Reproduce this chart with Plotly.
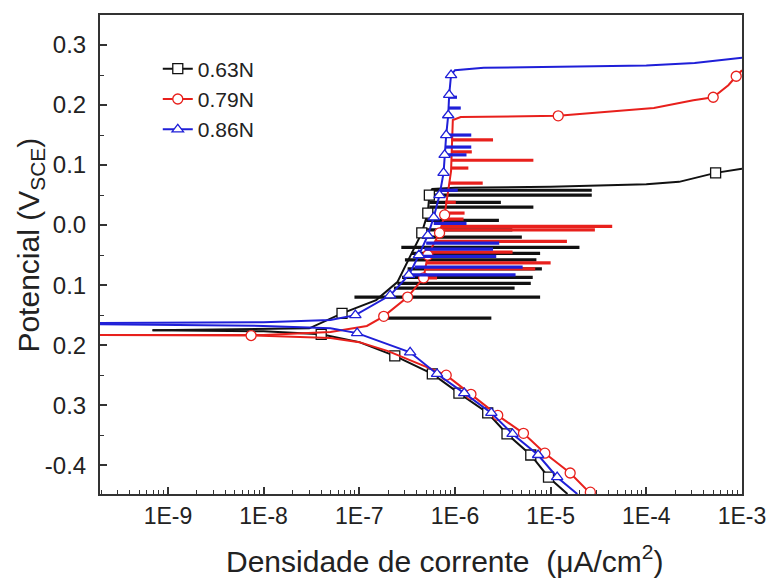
import plotly.graph_objects as go

# ---------------- data ----------------
series_names = ["0.63N", "0.79N", "0.86N"]
series_colors = ["#111111", "#e8201c", "#1f1fd8"]
series_symbols = ["square", "circle", "triangle-up"]

# cathodic branches (current A/cm2, potential V)
cat_i_063 = [6.9e-10, 1e-8, 4e-8, 1e-7, 2.35e-7, 5.8e-7, 1.1e-6, 2.2e-6, 3.5e-6, 6.2e-6, 9.5e-6, 1.5e-5]
cat_E_063 = [-0.175, -0.177, -0.182, -0.195, -0.218, -0.248, -0.28, -0.313, -0.348, -0.383, -0.42, -0.448]
cat_i_079 = [1.5e-10, 7.4e-9, 5e-8, 1e-7, 2e-7, 4e-7, 8.1e-7, 1.47e-6, 2.8e-6, 5.2e-6, 8.7e-6, 1.6e-5, 2.6e-5]
cat_E_079 = [-0.183, -0.184, -0.188, -0.195, -0.21, -0.23, -0.25, -0.282, -0.317, -0.347, -0.38, -0.413, -0.447]
cat_i_086 = [1.5e-10, 1e-8, 5e-8, 9.5e-8, 3.4e-7, 6.5e-7, 1.25e-6, 2.4e-6, 4.0e-6, 7.4e-6, 1.17e-5, 1.9e-5]
cat_E_086 = [-0.165, -0.168, -0.172, -0.18, -0.212, -0.248, -0.28, -0.313, -0.348, -0.383, -0.42, -0.448]

# anodic branches
an_i_063 = [6.9e-10, 3e-8, 6.6e-8, 1.5e-7, 2.5e-7, 3.3e-7, 4.5e-7, 5.2e-7, 5.4e-7, 5.8e-7, 1e-6, 1e-5, 1e-4, 2.2e-4, 3.6e-4, 5.3e-4, 1e-3]
an_E_063 = [-0.175, -0.172, -0.147, -0.125, -0.095, -0.055, -0.013, 0.02, 0.05, 0.06, 0.062, 0.064, 0.068, 0.072, 0.08, 0.087, 0.094]
an_i_079 = [1.5e-10, 1e-8, 5e-8, 1.2e-7, 1.8e-7, 3.2e-7, 4.7e-7, 5.2e-7, 6.9e-7, 7.8e-7, 9.1e-7, 9.5e-7, 1.15e-6, 1.2e-5, 1.2e-4, 3.1e-4, 5e-4, 7.2e-4, 8.7e-4, 1e-3]
an_E_079 = [-0.183, -0.183, -0.178, -0.168, -0.152, -0.12, -0.088, -0.05, -0.013, 0.017, 0.09, 0.175, 0.18, 0.182, 0.195, 0.208, 0.213, 0.233, 0.248, 0.258]
an_i_086 = [1.5e-10, 1e-8, 5e-8, 9.1e-8, 2.1e-7, 3.3e-7, 4.2e-7, 5.2e-7, 6.0e-7, 6.9e-7, 7.6e-7, 7.8e-7, 8.1e-7, 8.5e-7, 8.7e-7, 9.1e-7, 1.0e-6, 2e-6, 1e-4, 3.2e-4, 1e-3]
an_E_086 = [-0.163, -0.162, -0.158, -0.15, -0.117, -0.083, -0.05, -0.017, 0.013, 0.05, 0.087, 0.117, 0.15, 0.183, 0.217, 0.25, 0.258, 0.262, 0.266, 0.27, 0.279]

# metastable pitting spikes: potential, low current, peak current
sp_E_063 = [0.058, 0.05, 0.038, 0.03, 0.008, -0.008, -0.02, -0.037, -0.047, -0.058, -0.073, -0.087, -0.097, -0.105, -0.12, -0.155]
sp_lo_063 = [5.6e-7, 5.4e-7, 5.4e-7, 5.4e-7, 5.0e-7, 4.7e-7, 4.5e-7, 2.75e-7, 3.5e-7, 3.0e-7, 3.2e-7, 2.8e-7, 2.5e-7, 2.3e-7, 8.9e-8, 1.95e-7]
sp_hi_063 = [2.69e-5, 2.69e-5, 3.02e-6, 6.6e-6, 2.88e-6, 3.98e-6, 5.0e-6, 2.0e-5, 7.76e-6, 7.1e-6, 8.1e-6, 6.5e-6, 6.2e-6, 4.2e-6, 7.76e-6, 2.4e-6]
sp_E_079 = [0.142, 0.122, 0.108, 0.095, 0.07, 0.038, 0.02, 0.01, -0.002, -0.008, -0.027, -0.045, -0.063, -0.073, -0.088]
sp_lo_079 = [9.1e-7, 9.1e-7, 9.1e-7, 9.1e-7, 8.7e-7, 7.9e-7, 7.8e-7, 7.6e-7, 7.2e-7, 7.1e-7, 6.3e-7, 5.6e-7, 5.0e-7, 4.8e-7, 4.7e-7]
sp_hi_079 = [2.5e-6, 1.5e-6, 6.6e-6, 1.38e-6, 1.95e-6, 1.02e-6, 1.26e-6, 1.23e-6, 4.4e-5, 2.9e-5, 1.48e-5, 4.0e-6, 1.0e-5, 6.9e-6, 6.5e-7]
sp_E_086 = [0.213, 0.195, 0.15, 0.13, 0.117, 0.058, 0.003, -0.03, -0.04, -0.052, -0.07, -0.083]
sp_lo_086 = [8.7e-7, 8.5e-7, 8.1e-7, 7.9e-7, 7.8e-7, 6.9e-7, 6.0e-7, 5.0e-7, 4.8e-7, 4.2e-7, 3.8e-7, 3.3e-7]
sp_hi_086 = [1.05e-6, 1.15e-6, 1.48e-6, 1.48e-6, 1.32e-6, 1.07e-6, 1.32e-6, 2.9e-6, 2.5e-6, 2.7e-6, 5.1e-6, 4.3e-6]

# symbol positions
mk_i_063 = [4e-8, 2.35e-7, 5.8e-7, 1.1e-6, 2.2e-6, 3.5e-6, 6.2e-6, 9.5e-6, 6.6e-8, 4.5e-7, 5.2e-7, 5.4e-7, 5.3e-4]
mk_E_063 = [-0.182, -0.218, -0.248, -0.28, -0.313, -0.348, -0.383, -0.42, -0.147, -0.013, 0.02, 0.05, 0.087]
mk_i_079 = [7.4e-9, 8.1e-7, 1.47e-6, 2.8e-6, 5.2e-6, 8.7e-6, 1.6e-5, 2.6e-5, 1.8e-7, 3.2e-7, 4.7e-7, 5.2e-7, 6.9e-7, 7.8e-7, 1.2e-5, 5e-4, 8.7e-4]
mk_E_079 = [-0.184, -0.25, -0.282, -0.317, -0.347, -0.38, -0.413, -0.445, -0.152, -0.12, -0.088, -0.05, -0.013, 0.017, 0.182, 0.213, 0.248]
mk_i_086 = [9.5e-8, 3.4e-7, 6.5e-7, 1.25e-6, 2.4e-6, 4.0e-6, 7.4e-6, 1.17e-5, 9.1e-8, 2.1e-7, 3.3e-7, 4.2e-7, 5.2e-7, 6.0e-7, 6.9e-7, 7.6e-7, 7.8e-7, 8.1e-7, 8.5e-7, 8.7e-7, 9.1e-7]
mk_E_086 = [-0.18, -0.212, -0.248, -0.28, -0.313, -0.348, -0.383, -0.42, -0.15, -0.117, -0.083, -0.05, -0.017, 0.013, 0.05, 0.087, 0.117, 0.15, 0.183, 0.217, 0.25]

x_tickvals = [1e-9, 1e-8, 1e-7, 1e-6, 1e-5, 1e-4, 1e-3]
x_ticktext = ["1E-9", "1E-8", "1E-7", "1E-6", "1E-5", "1E-4", "1E-3"]
y_tickvals = [0.3, 0.2, 0.1, 0.0, -0.1, -0.2, -0.3, -0.4]
y_ticktext = ["0.3", "0.2", "0.1", "0.0", "0.1", "0.2", "0.3", "-0.4"]
y_minorvals = [0.35, 0.25, 0.15, 0.05, -0.05, -0.15, -0.25, -0.35]
x_title = "Densidade de corrente\u00a0\u00a0(μA/cm<sup>2</sup>)"
y_title = "Potencial (V<sub>SCE</sub>)"

series = [
    (cat_i_063, cat_E_063, an_i_063, an_E_063, sp_E_063, sp_lo_063, sp_hi_063, mk_i_063, mk_E_063),
    (cat_i_079, cat_E_079, an_i_079, an_E_079, sp_E_079, sp_lo_079, sp_hi_079, mk_i_079, mk_E_079),
    (cat_i_086, cat_E_086, an_i_086, an_E_086, sp_E_086, sp_lo_086, sp_hi_086, mk_i_086, mk_E_086),
]

fig = go.Figure()
for k, (ci, cE, ai, aE, sE, slo, shi, mi, mE) in enumerate(series):
    col = series_colors[k]
    fig.add_trace(go.Scatter(x=ci, y=cE, mode="lines", line=dict(color=col, width=2),
                             showlegend=False, hoverinfo="skip"))
    fig.add_trace(go.Scatter(x=ai, y=aE, mode="lines", line=dict(color=col, width=2),
                             showlegend=False, hoverinfo="skip"))
    sx, sy = [], []
    for e, lo, hi in zip(sE, slo, shi):
        sx += [lo, hi, None]
        sy += [e, e, None]
    fig.add_trace(go.Scatter(x=sx, y=sy, mode="lines", line=dict(color=col, width=3.2),
                             showlegend=False, hoverinfo="skip", connectgaps=False))
    fig.add_trace(go.Scatter(x=mi, y=mE, mode="markers",
                             marker=dict(symbol=series_symbols[k], size=10, color="white",
                                         line=dict(width=1.3, color=col)),
                             showlegend=False, hoverinfo="skip"))

for k in range(3):
    fig.add_trace(go.Scatter(x=[None], y=[None], mode="lines+markers", name=series_names[k],
                             line=dict(color=series_colors[k], width=2),
                             marker=dict(symbol=series_symbols[k], size=10,
                                         color="white", line=dict(width=1.3, color=series_colors[k]))))

font_family = "Liberation Sans, Arial, sans-serif"
minor_x = [m * 10.0 ** d for d in range(-10, -3) for m in range(2, 10)]

fig.update_layout(
    width=778, height=581,
    margin=dict(l=100, r=29, t=15, b=87),
    paper_bgcolor="white", plot_bgcolor="white",
    font=dict(family=font_family, size=23, color="#222222"),
    showlegend=True,
    legend=dict(x=0.09, y=0.93, xanchor="left", yanchor="top", bgcolor="rgba(0,0,0,0)",
                font=dict(size=21, color="#222222"), tracegroupgap=0, itemwidth=30),
    xaxis=dict(type="log", range=[-9.71, -3.0], tickmode="array", tickvals=x_tickvals,
               ticktext=x_ticktext, ticks="inside", ticklen=7, tickwidth=1.5, tickcolor="#333",
               showline=True, linecolor="#333333", linewidth=2, mirror=True, showgrid=False,
               zeroline=False, tickfont=dict(size=23),
               minor=dict(tickvals=minor_x, ticks="inside", ticklen=4, tickwidth=1.2, tickcolor="#333", showgrid=False)),
    yaxis=dict(range=[-0.448, 0.35], tickmode="array", tickvals=y_tickvals, ticktext=y_ticktext,
               ticks="inside", ticklen=7, tickwidth=1.5, tickcolor="#333",
               showline=True, linecolor="#333333", linewidth=2, mirror=True, showgrid=False,
               zeroline=False, tickfont=dict(size=24), ticklabelstandoff=7,
               minor=dict(tickvals=y_minorvals, ticks="inside", ticklen=4, tickwidth=1.2, tickcolor="#333", showgrid=False)),
    annotations=[
        dict(text=x_title, xref="paper", yref="paper", x=0.538, y=-0.136, xanchor="center",
             yanchor="middle", showarrow=False, font=dict(size=30, color="#222222")),
        dict(text=y_title, xref="paper", yref="paper", x=-0.108, y=0.52, xanchor="center",
             yanchor="middle", textangle=-90, showarrow=False, font=dict(size=30, color="#222222")),
    ],
)

fig.write_html("out.html")
